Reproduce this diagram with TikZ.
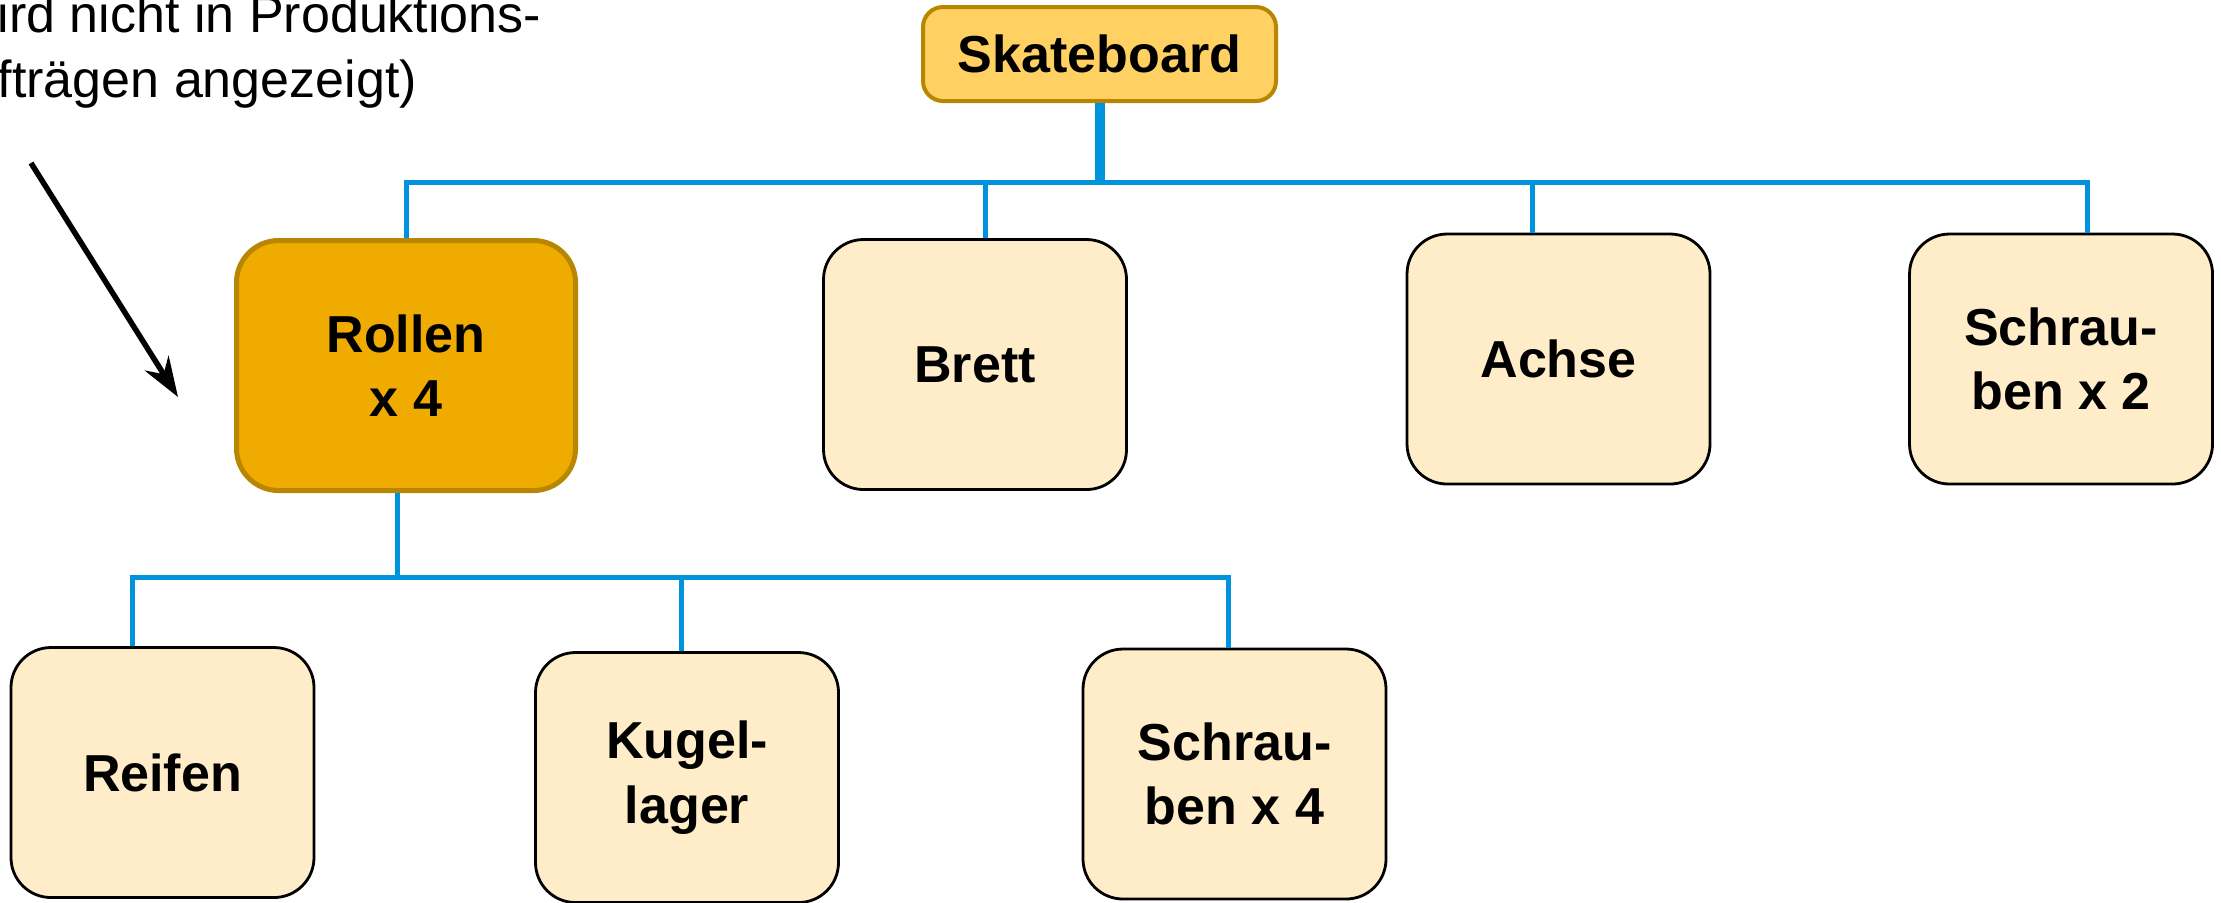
\documentclass[tikz,border=0pt]{standalone}
\usepackage{fontspec}
\setmainfont{Liberation Sans}
\usetikzlibrary{arrows.meta}
\definecolor{rootfill}{HTML}{FFD163}
\definecolor{goldline}{HTML}{B88600}
\definecolor{assemblyfill}{HTML}{EFAB00}
\definecolor{partfill}{HTML}{FEEDC8}
\definecolor{busblue}{HTML}{0093DD}
\newcommand{\partfont}{\fontsize{14.8}{18.3}\selectfont}
\tikzset{
part/.style={draw=black, line width=0.28mm, fill=partfill, rounded corners=4mm, minimum width=3.03cm, minimum height=2.5cm, inner sep=0pt, align=center, font=\bfseries\partfont}, % plain component box
assembly/.style={part, draw=goldline, fill=assemblyfill, line width=0.5mm, minimum width=3.39cm, rounded corners=4.2mm}, % sub-assembly (phantom)
root/.style={part, draw=goldline, fill=rootfill, line width=0.4mm, minimum width=3.53cm, minimum height=0.94cm, rounded corners=2mm}, % top product
bus/.style={draw=busblue, line width=0.5mm}, % connector lines
trunk/.style={bus, line width=1mm}, % thick stem under the root
note/.style={inner sep=0pt, align=left, font=\partfont}, % annotation text
}

\begin{document}
\begin{tikzpicture}
    \path[use as bounding box, clip] (0,0) rectangle (22.21,-9.02);
    \node[root] (skate) at (10.995,-0.54) {Skateboard};
    \node[assembly] (rollen) at (4.06,-3.655) {Rollen\\x 4};
    \node[part] (brett) at (9.75,-3.645) {Brett};
    \node[part] (achse) at (15.585,-3.59) {Achse};
    \node[part] (schr2) at (20.61,-3.59) {Schrau-\\ben x 2};
    \node[part] (reifen) at (1.625,-7.725) {Reifen};
    \node[part] (kugel) at (6.87,-7.775) {Kugel-\\lager};
    \node[part] (schr4) at (12.345,-7.74) {Schrau-\\ben x 4};
    \node[note, anchor=base west] (note) at (-0.03,-0.97) {ird nicht in Produktions-\\fträgen angezeigt)};
    \coordinate (bus1) at (0,-1.82);
    \coordinate (bus2) at (0,-5.77);
    \coordinate (note start) at (0.31,-1.63);
    \coordinate (note tip) at (1.78,-3.97);
    % first level
    \draw[trunk] (skate.south) -- (skate.south |- bus1);
    \draw[bus] (rollen.north) |- ([xshift=2.6mm]schr2.north |- bus1) -- ([xshift=2.6mm]schr2.north);
    \draw[bus] ([xshift=1mm]brett.north) -- ([xshift=1mm]brett.north |- bus1);
    \draw[bus] ([xshift=-2.65mm]achse.north) -- ([xshift=-2.65mm]achse.north |- bus1);
    % second level
    \draw[bus] ([xshift=-0.9mm]rollen.south) -- ([xshift=-0.9mm]rollen.south |- bus2);
    \draw[bus] ([xshift=-3.05mm]reifen.north) |- ([xshift=-0.65mm]schr4.north |- bus2) -- ([xshift=-0.65mm]schr4.north);
    \draw[bus] ([xshift=-0.6mm]kugel.north) -- ([xshift=-0.6mm]kugel.north |- bus2);
    % annotation arrow
    \draw[line width=0.55mm, -{Stealth[length=4mm, width=2.8mm]}] (note start) -- (note tip);
\end{tikzpicture}
\end{document}
